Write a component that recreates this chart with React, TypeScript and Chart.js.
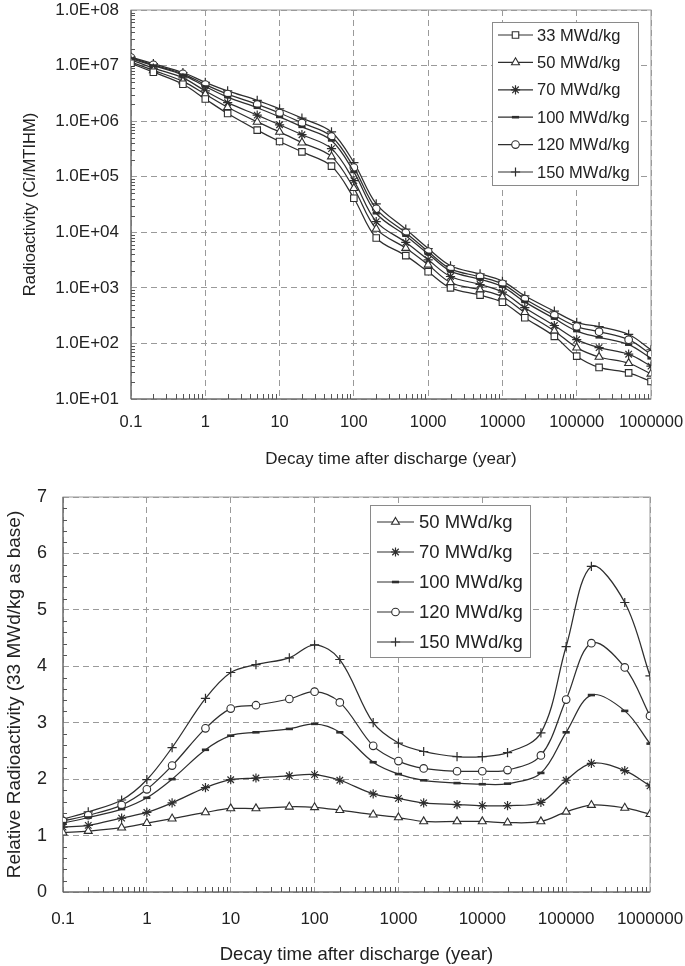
import React, { useEffect, useRef } from "react";
import { Chart, registerables, Plugin, ChartConfiguration } from "chart.js";
import { drawPoint } from "chart.js/helpers";

Chart.register(...registerables);

const decayYears = [
  0.1, 0.2, 0.5, 1, 2, 5, 10, 20, 50, 100, 200, 500, 1000, 2000, 5000, 10000,
  20000, 50000, 100000, 200000, 500000, 1000000,
];

// Radioactivity (Ci/MTIHM)
const activity33 = [1.1e7, 7.6e6, 4.6e6, 2.5e6, 1.37e6, 6.9e5, 4.3e5, 2.8e5, 1.55e5, 4.1e4, 7.9e3, 3.8e3, 1.95e3, 1.0e3, 7.4e2, 5.5e2, 2.9e2, 1.34e2, 59, 37, 29.5, 20.6];
const activity50 = [1.16e7, 8.2e6, 5.2e6, 3.05e6, 1.78e6, 9.7e5, 6.4e5, 4.1e5, 2.3e5, 6.2e4, 1.15e4, 5.2e3, 2.6e3, 1.25e3, 9.2e2, 6.9e2, 3.6e2, 1.68e2, 84, 57, 44, 28.4];
const activity70 = [1.27e7, 9.0e6, 6.0e6, 3.5e6, 2.15e6, 1.28e6, 8.6e5, 5.7e5, 3.2e5, 8.5e4, 1.56e4, 6.6e3, 3.2e3, 1.6e3, 1.15e3, 8.4e2, 4.4e2, 2.1e2, 117, 84, 64, 39];
const activity100 = [1.34e7, 1.0e7, 6.8e6, 4.2e6, 2.7e6, 1.74e6, 1.19e6, 7.9e5, 4.5e5, 1.22e5, 2.2e4, 8.7e3, 4.1e3, 2.0e3, 1.43e3, 1.05e3, 5.6e2, 2.8e2, 167, 129, 95, 54];
const activity120 = [1.39e7, 1.03e7, 7.1e6, 4.55e6, 3.07e6, 2.0e6, 1.4e6, 9.3e5, 5.3e5, 1.46e5, 2.65e4, 9.8e3, 4.5e3, 2.2e3, 1.58e3, 1.18e3, 6.3e2, 3.2e2, 201, 163, 117, 64];
const activity150 = [1.42e7, 1.08e7, 7.5e6, 5.0e6, 3.5e6, 2.37e6, 1.67e6, 1.13e6, 6.4e5, 1.8e5, 3.25e4, 1.14e4, 5.1e3, 2.5e3, 1.78e3, 1.32e3, 7.2e2, 3.8e2, 240, 200, 145, 77];

// Relative radioactivity (33 MWd/kg as base)
const relative50 = [1.05, 1.08, 1.14, 1.22, 1.3, 1.41, 1.48, 1.48, 1.51, 1.5, 1.45, 1.37, 1.32, 1.25, 1.25, 1.25, 1.23, 1.25, 1.42, 1.54, 1.49, 1.38];
const relative70 = [1.15, 1.18, 1.31, 1.41, 1.58, 1.85, 1.99, 2.02, 2.06, 2.08, 1.98, 1.74, 1.66, 1.58, 1.55, 1.53, 1.53, 1.59, 1.98, 2.28, 2.15, 1.88];
const relative100 = [1.22, 1.32, 1.47, 1.67, 2.0, 2.52, 2.77, 2.83, 2.89, 2.98, 2.83, 2.3, 2.09, 1.98, 1.93, 1.91, 1.92, 2.11, 2.83, 3.49, 3.21, 2.63];
const relative120 = [1.26, 1.36, 1.54, 1.82, 2.24, 2.9, 3.25, 3.31, 3.42, 3.55, 3.36, 2.59, 2.32, 2.19, 2.14, 2.14, 2.16, 2.42, 3.41, 4.41, 3.98, 3.12];
const relative150 = [1.29, 1.42, 1.63, 1.99, 2.56, 3.43, 3.89, 4.03, 4.15, 4.38, 4.12, 3.0, 2.64, 2.49, 2.4, 2.4, 2.47, 2.82, 4.35, 5.77, 5.13, 3.83];

const burnupLabels = ["33 MWd/kg", "50 MWd/kg", "70 MWd/kg", "100 MWd/kg", "120 MWd/kg", "150 MWd/kg"];

const xTickValues = [0.1, 1, 10, 100, 1000, 10000, 100000, 1000000];
const xTickLabels = ["0.1", "1", "10", "100", "1000", "10000", "100000", "1000000"];
const activityTickValues = [1e1, 1e2, 1e3, 1e4, 1e5, 1e6, 1e7, 1e8];
const activityTickLabels = ["1.0E+01", "1.0E+02", "1.0E+03", "1.0E+04", "1.0E+05", "1.0E+06", "1.0E+07", "1.0E+08"];
const relativeTickValues = [0, 1, 2, 3, 4, 5, 6, 7];
const relativeTickLabels = ["0", "1", "2", "3", "4", "5", "6", "7"];

const FONT = "'Liberation Sans', Arial, sans-serif";
const INK = "#222";
const LINE = "#2e2e2e";

// marker look for each burnup, same order as burnupLabels
const markers = [
  { pointStyle: "rect", pointRadius: 4.6, pointBorderWidth: 1.1 },
  { pointStyle: "triangle", pointRadius: 4.6, pointBorderWidth: 1.1 },
  { pointStyle: "star", pointRadius: 4.6, pointBorderWidth: 1.2 },
  { pointStyle: "line", pointRadius: 3.6, pointBorderWidth: 2.6 },
  { pointStyle: "circle", pointRadius: 3.8, pointBorderWidth: 1.1 },
  { pointStyle: "cross", pointRadius: 4.6, pointBorderWidth: 1.2 },
];

const makeDataset = (label: string, values: number[], m: (typeof markers)[number]) => ({
  label,
  data: values.map((v, i) => ({ x: decayYears[i], y: v })),
  borderColor: LINE,
  borderWidth: 1.25,
  tension: 0.35,
  pointBackgroundColor: "#fff",
  pointBorderColor: LINE,
  ...m,
});

// framed legend drawn inside the plot, like the spreadsheet original
const boxLegend: Plugin = {
  id: "boxLegend",
  afterDraw(chart, _args, opts: any) {
    if (!opts || !opts.width) return;
    const { ctx } = chart;
    const { left, top, width, height, firstRow, rowGap, segLeft, segRight, textLeft, fontSize } = opts;
    ctx.save();
    ctx.fillStyle = "#fff";
    ctx.fillRect(left, top, width, height);
    ctx.strokeStyle = "#8a8a8a";
    ctx.lineWidth = 1;
    ctx.strokeRect(left + 0.5, top + 0.5, width, height);
    chart.data.datasets.forEach((ds: any, i) => {
      const y = top + firstRow + i * rowGap;
      ctx.strokeStyle = LINE;
      ctx.lineWidth = 1.2;
      ctx.beginPath();
      ctx.moveTo(left + segLeft, y);
      ctx.lineTo(left + segRight, y);
      ctx.stroke();
      ctx.lineWidth = ds.pointBorderWidth;
      ctx.fillStyle = "#fff";
      drawPoint(ctx, { pointStyle: ds.pointStyle, radius: ds.pointRadius, rotation: 0, borderWidth: ds.pointBorderWidth } as any, left + (segLeft + segRight) / 2, y);
      ctx.fillStyle = INK;
      ctx.font = `${fontSize}px ${FONT}`;
      ctx.textBaseline = "middle";
      ctx.fillText(ds.label, left + textLeft, y + 1);
    });
    ctx.restore();
  },
};

// plot frame and small inner ticks
const frameTicks: Plugin = {
  id: "frameTicks",
  beforeDatasetsDraw(chart, _args, opts: any) {
    const { ctx, chartArea: a } = chart;
    const xs: any = chart.scales.x;
    const ys: any = chart.scales.y;
    ctx.save();
    ctx.strokeStyle = "#999";
    ctx.lineWidth = 1;
    ctx.strokeRect(a.left, a.top, a.right - a.left, a.bottom - a.top);
    ctx.strokeStyle = "#555";
    ctx.beginPath();
    ctx.moveTo(a.left, a.top);
    ctx.lineTo(a.left, a.bottom);
    ctx.lineTo(a.right, a.bottom);
    ctx.stroke();
    ctx.beginPath();
    for (let d = 0.1; d < 1e6; d *= 10) {
      for (let m = 2; m < 10; m++) {
        const px = Math.round(xs.getPixelForValue(d * m)) + 0.5;
        ctx.moveTo(px, a.bottom);
        ctx.lineTo(px, a.bottom - 5);
      }
    }
    if (opts.logY) {
      for (let d = 10; d < 1e8; d *= 10) {
        for (let m = 2; m < 10; m++) {
          const py = Math.round(ys.getPixelForValue(d * m)) + 0.5;
          ctx.moveTo(a.left, py);
          ctx.lineTo(a.left + 4, py);
        }
      }
    } else {
      for (let v = 0; v < 7; v += 1) {
        for (let k = 1; k < 5; k++) {
          const py = Math.round(ys.getPixelForValue(v + k * 0.2)) + 0.5;
          ctx.moveTo(a.left, py);
          ctx.lineTo(a.left + 4, py);
        }
      }
    }
    ctx.stroke();
    ctx.restore();
  },
};

const xAxis = (fontSize: number, pad: number, axisHeight: number, titleSize: number, titlePad: any) => ({
  type: "logarithmic" as const,
  min: 0.1,
  max: 1000000,
  afterBuildTicks: (s: any) => {
    s.ticks = xTickValues.map((v) => ({ value: v }));
  },
  afterFit: (s: any) => {
    s.height = axisHeight;
    s.paddingLeft = 0;
    s.paddingRight = 0;
  },
  ticks: {
    autoSkip: false,
    maxRotation: 0,
    padding: pad,
    color: INK,
    font: { size: fontSize, family: FONT },
    callback: (_v: any, i: number) => xTickLabels[i],
  },
  grid: { color: "#9a9a9a", lineWidth: 1, drawTicks: false },
  border: { display: false, dash: [6, 4] },
  title: {
    display: true,
    text: "Decay time after discharge (year)",
    color: INK,
    font: { size: titleSize, family: FONT },
    padding: titlePad,
  },
});

function topConfig(): ChartConfiguration<"line"> {
  const series = [activity33, activity50, activity70, activity100, activity120, activity150];
  return {
    type: "line",
    data: { datasets: series.map((s, i) => makeDataset(burnupLabels[i], s, markers[i])) as any },
    plugins: [frameTicks, boxLegend],
    options: {
      responsive: false,
      animation: false,
      layout: { padding: { left: 0, top: 10, right: 34, bottom: 0 } },
      plugins: {
        legend: { display: false },
        tooltip: { enabled: false },
        frameTicks: { logY: true },
        boxLegend: { left: 492, top: 22, width: 146, height: 163, firstRow: 13, rowGap: 27.4, segLeft: 6, segRight: 41, textLeft: 45, fontSize: 16.5 },
      } as any,
      scales: {
        x: xAxis(16.5, 14, 71, 17, { top: 0, bottom: 0 }) as any,
        y: {
          type: "logarithmic",
          min: 10,
          max: 1e8,
          afterBuildTicks: (s: any) => {
            s.ticks = activityTickValues.map((v) => ({ value: v }));
          },
          afterFit: (s: any) => {
            s.width = 131;
            s.paddingTop = 0;
            s.paddingBottom = 0;
          },
          ticks: {
            padding: 12,
            color: INK,
            font: { size: 17, family: FONT },
            callback: (_v: any, i: number) => activityTickLabels[i],
          },
          grid: { color: "#9a9a9a", lineWidth: 1, drawTicks: false },
          border: { display: false, dash: [6, 4] },
          title: {
            display: true,
            text: "Radioactivity (Ci/MTIHM)",
            color: INK,
            font: { size: 16.5, family: FONT },
            padding: { top: 21, bottom: 0 },
          },
        } as any,
      },
    },
  };
}

function bottomConfig(): ChartConfiguration<"line"> {
  const series = [relative50, relative70, relative100, relative120, relative150];
  return {
    type: "line",
    data: { datasets: series.map((s, i) => makeDataset(burnupLabels[i + 1], s, markers[i + 1])) as any },
    plugins: [frameTicks, boxLegend],
    options: {
      responsive: false,
      animation: false,
      layout: { padding: { left: 0, top: 27, right: 35, bottom: 0 } },
      plugins: {
        legend: { display: false },
        tooltip: { enabled: false },
        frameTicks: { logY: false },
        boxLegend: { left: 370, top: 35, width: 160, height: 152, firstRow: 17, rowGap: 30, segLeft: 7, segRight: 44, textLeft: 49, fontSize: 18.5 },
      } as any,
      scales: {
        x: xAxis(17, 17, 74, 18.5, { top: 0, bottom: 0 }) as any,
        y: {
          type: "linear",
          min: 0,
          max: 7,
          afterBuildTicks: (s: any) => {
            s.ticks = relativeTickValues.map((v) => ({ value: v }));
          },
          afterFit: (s: any) => {
            s.width = 63;
            s.paddingTop = 0;
            s.paddingBottom = 0;
          },
          ticks: {
            padding: 16,
            color: INK,
            font: { size: 18, family: FONT },
            callback: (_v: any, i: number) => relativeTickLabels[i],
          },
          grid: { color: "#9a9a9a", lineWidth: 1, drawTicks: false },
          border: { display: false, dash: [6, 4] },
          title: {
            display: true,
            text: "Relative Radioactivity (33 MWd/kg as base)",
            color: INK,
            font: { size: 19, family: FONT },
            padding: { top: 3, bottom: 0 },
          },
        } as any,
      },
    },
  };
}

const App: React.FC = () => {
  const topRef = useRef<HTMLCanvasElement | null>(null);
  const bottomRef = useRef<HTMLCanvasElement | null>(null);

  useEffect(() => {
    document.body.style.margin = "0";
    const charts: Chart[] = [];
    if (topRef.current) charts.push(new Chart(topRef.current, topConfig()));
    if (bottomRef.current) charts.push(new Chart(bottomRef.current, bottomConfig()));
    return () => {
      charts.forEach((c) => c.destroy());
    };
  }, []);

  return (
    <div style={{ width: 685, height: 966, background: "#fff" }}>
      <canvas ref={topRef} width={685} height={470} style={{ display: "block" }}></canvas>
      <canvas ref={bottomRef} width={685} height={496} style={{ display: "block" }}></canvas>
    </div>
  );
};

export default App;
